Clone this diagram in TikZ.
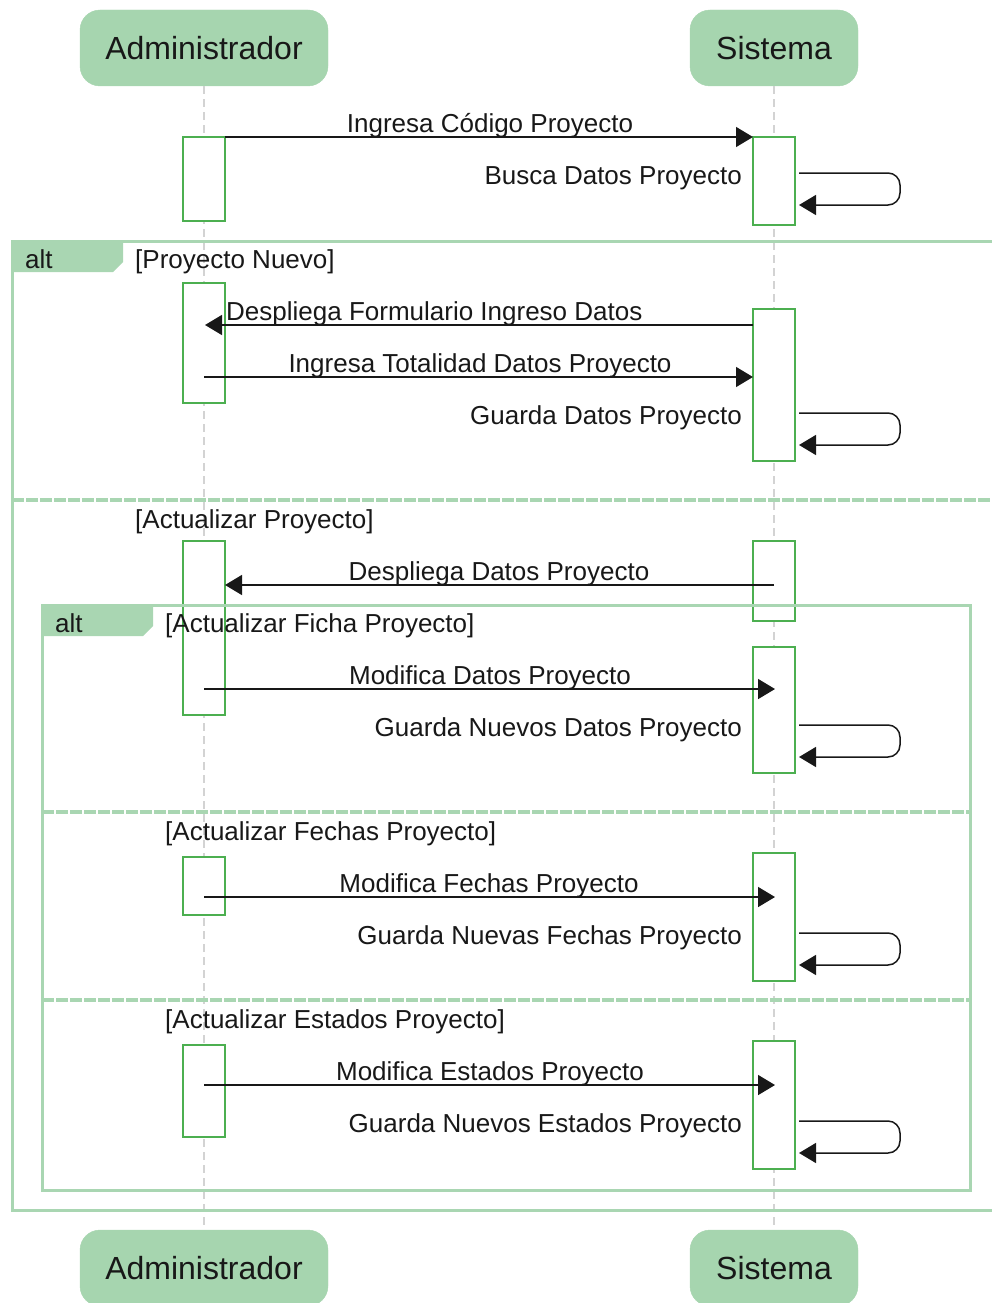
\documentclass[tikz,border=0pt]{standalone}
\usepackage{fontspec}
\setmainfont{Liberation Sans}
\usetikzlibrary{arrows.meta}
\definecolor{actfill}{HTML}{A6D5AF}
\definecolor{framecol}{HTML}{A9D6B2}
\definecolor{boxcol}{HTML}{4CAF50}
\definecolor{lifecol}{HTML}{D3D3D3}
\definecolor{inkcol}{HTML}{181818}
\begin{document}
\begin{tikzpicture}[x=1pt,y=-1pt,
  actor/.style={draw=actfill, fill=actfill, rounded corners=20pt, minimum height=76pt,
    font=\fontsize{32}{38}\selectfont, text=inkcol, inner sep=0pt},
  lifeline/.style={draw=lifecol, line width=1.2pt, dash pattern=on 8pt off 5pt},
  actbox/.style={draw=boxcol, fill=white, line width=1.5pt},
  msg/.style={draw=inkcol, line width=1.5pt, -{Triangle[length=17pt,width=20pt]}},
  selfmsg/.style={msg, rounded corners=12pt},
  lbl/.style={font=\fontsize{26}{30}\selectfont, text=inkcol, inner sep=0pt},
  frameline/.style={draw=framecol, line width=3pt},
  divider/.style={draw=framecol, line width=4.5pt, dash pattern=on 12pt off 2pt},
]
\useasboundingbox (0,0) rectangle (992,1303);
\clip (0,0) rectangle (992,1303);

% participants, top and bottom
\node[actor, minimum width=248pt] (adminT) at (204,48) {Administrador};
\node[actor, minimum width=168pt] (sysT) at (774,48) {Sistema};
\node[actor, minimum width=248pt] (adminB) at (204,1268) {Administrador};
\node[actor, minimum width=168pt] (sysB) at (774,1268) {Sistema};

% lifelines
\draw[lifeline] (adminT.south) -- (adminB.north);
\draw[lifeline] (sysT.south) -- (sysB.north);

% activation bars
\draw[actbox] (183,137) rectangle (225,221);
\draw[actbox] (183,283) rectangle (225,403);
\draw[actbox] (183,541) rectangle (225,715);
\draw[actbox] (183,857) rectangle (225,915);
\draw[actbox] (183,1045) rectangle (225,1137);
\draw[actbox] (753,137) rectangle (795,225);
\draw[actbox] (753,309) rectangle (795,461);
\draw[actbox] (753,541) rectangle (795,621);
\draw[actbox] (753,647) rectangle (795,773);
\draw[actbox] (753,853) rectangle (795,981);
\draw[actbox] (753,1041) rectangle (795,1169);

% outer alt fragment
\draw[frameline] (12,241) rectangle (1010,1210);
\fill[framecol] (12,241) -- (123,241) -- (123,262) -- (113,272) -- (12,272) -- cycle;
\draw[divider] (12,500) -- (1010,500);

% inner alt fragment
\draw[frameline] (42,605) rectangle (970,1190);
\fill[framecol] (42,605) -- (153,605) -- (153,626) -- (143,636) -- (42,636) -- cycle;
\draw[divider] (42,812) -- (970,812);
\draw[divider] (42,1000) -- (970,1000);

% fragment labels and guards
\node[lbl, anchor=base west] (alt1) at (25,268) {alt};
\node[lbl, anchor=base west] (g1) at (135,268) {[Proyecto Nuevo]};
\node[lbl, anchor=base west] (g2) at (135,528) {[Actualizar Proyecto]};
\node[lbl, anchor=base west] (alt2) at (55,632) {alt};
\node[lbl, anchor=base west] (g3) at (165,632) {[Actualizar Ficha Proyecto]};
\node[lbl, anchor=base west] (g4) at (165,840) {[Actualizar Fechas Proyecto]};
\node[lbl, anchor=base west] (g5) at (165,1028) {[Actualizar Estados Proyecto]};

% message end points
\coordinate (m1s) at (225,137);  \coordinate (m1e) at (753,137);
\coordinate (m3s) at (753,325);  \coordinate (m3e) at (205,325);
\coordinate (m4s) at (204,377);  \coordinate (m4e) at (753,377);
\coordinate (m6s) at (774,585);  \coordinate (m6e) at (225,585);
\coordinate (m7s) at (204,689);  \coordinate (m7e) at (775,689);
\coordinate (m9s) at (204,897);  \coordinate (m9e) at (775,897);
\coordinate (m11s) at (204,1085); \coordinate (m11e) at (775,1085);
\coordinate (s1a) at (799,173);  \coordinate (s1b) at (799,205);
\coordinate (s2a) at (799,413);  \coordinate (s2b) at (799,445);
\coordinate (s3a) at (799,725);  \coordinate (s3b) at (799,757);
\coordinate (s4a) at (799,933);  \coordinate (s4b) at (799,965);
\coordinate (s5a) at (799,1121); \coordinate (s5b) at (799,1153);

% messages
\draw[msg] (m1s) -- (m1e);
\draw[msg] (m3s) -- (m3e);
\draw[msg] (m4s) -- (m4e);
\draw[msg] (m6s) -- (m6e);
\draw[msg] (m7s) -- (m7e);
\draw[msg] (m9s) -- (m9e);
\draw[msg] (m11s) -- (m11e);
\foreach \p in {s1,s2,s3,s4,s5}
  \draw[selfmsg] (\p a) -- ++(101,0) -- ++(0,32) -- (\p b);

% message labels
\node[lbl, anchor=base] (t1) at (490,132) {Ingresa Código Proyecto};
\node[lbl, anchor=base east] (t2) at (742,184) {Busca Datos Proyecto};
\node[lbl, anchor=base west] (t3) at (226,320) {Despliega Formulario Ingreso Datos};
\node[lbl, anchor=base] (t4) at (480,372) {Ingresa Totalidad Datos Proyecto};
\node[lbl, anchor=base east] (t5) at (742,424) {Guarda Datos Proyecto};
\node[lbl, anchor=base] (t6) at (499,580) {Despliega Datos Proyecto};
\node[lbl, anchor=base] (t7) at (490,684) {Modifica Datos Proyecto};
\node[lbl, anchor=base east] (t8) at (742,736) {Guarda Nuevos Datos Proyecto};
\node[lbl, anchor=base] (t9) at (489,892) {Modifica Fechas Proyecto};
\node[lbl, anchor=base east] (t10) at (742,944) {Guarda Nuevas Fechas Proyecto};
\node[lbl, anchor=base] (t11) at (490,1080) {Modifica Estados Proyecto};
\node[lbl, anchor=base east] (t12) at (742,1132) {Guarda Nuevos Estados Proyecto};
\end{tikzpicture}
\end{document}
